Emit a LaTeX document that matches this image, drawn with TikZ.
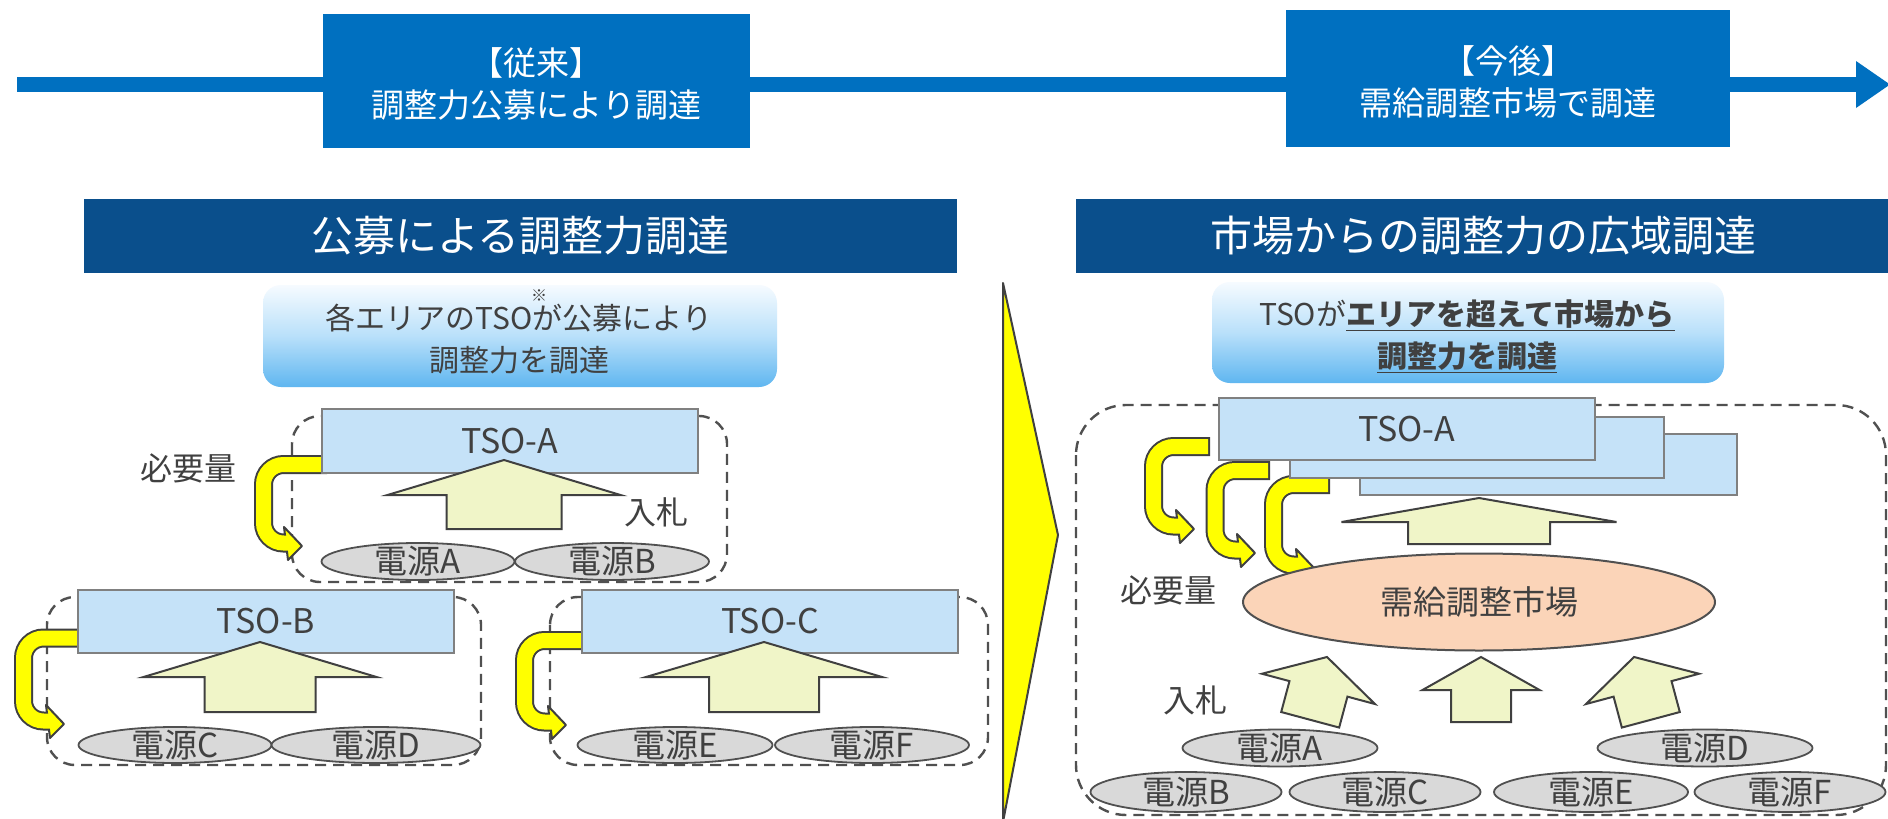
\documentclass[tikz,border=0pt]{standalone}
\usepackage{fontspec}
\setmainfont{Noto Sans CJK JP}
\usetikzlibrary{shapes.geometric}
\definecolor{tlblue}{RGB}{0,112,192}
\definecolor{hdblue}{RGB}{10,79,140}
\definecolor{tsofill}{RGB}{197,226,248}
\definecolor{tsoline}{RGB}{128,128,128}
\definecolor{txt}{RGB}{64,64,64}
\definecolor{upfill}{RGB}{240,245,200}
\definecolor{elfill}{RGB}{217,217,217}
\definecolor{elline}{RGB}{80,80,80}
\definecolor{mktfill}{RGB}{251,212,184}
\definecolor{ylw}{RGB}{255,255,0}
\definecolor{dk}{RGB}{64,64,64}
\definecolor{lbtop}{RGB}{246,251,255}
\definecolor{lbmid}{RGB}{185,224,250}
\definecolor{lbbot}{RGB}{95,182,240}
\newcommand\fsz[1]{\fontsize{#1}{#1}\selectfont}
\newcommand\fszl[2]{\fontsize{#1}{#2}\selectfont}
% bent yellow arrow: xs, yt, xv, yb, xh
\newcommand\bentarrow[5]{%
  \draw[line width=19, dk, rounded corners=20, shorten <=-2] (#1,#2) -- (#3,#2) -- (#3,#4) -- (#5+2,#4);
  \filldraw[fill=ylw, draw=dk, line width=2, line join=round] (#5-1,#4-16) -- (#5+17,#4+3) -- (#5+3,#4+17) -- cycle;
  \draw[line width=15, ylw, rounded corners=20] (#1,#2) -- (#3,#2) -- (#3,#4) -- (#5+4,#4);
}
% block up arrow: tx, ty, head half width, head length, shaft half width, length, rotation
\newcommand\blockup[7]{%
  \begin{scope}[shift={(#1,#2)}, rotate=#7]
  \filldraw[fill=upfill, draw=dk, line width=2] (0,0) -- (#3,#4) -- (#5,#4) -- (#5,#6) -- (-#5,#6) -- (-#5,#4) -- (-#3,#4) -- cycle;
  \end{scope}}
\tikzset{
  tlbox/.style={rectangle, fill=tlblue, inner sep=0},
  tltext/.style={align=center, text=white, font=\fszl{33}{42}},
  hdr/.style={rectangle, fill=hdblue, text=white, font=\fsz{42}, inner sep=0},
  lbox/.style={rectangle, rounded corners=18, top color=lbtop, bottom color=lbbot, middle color=lbmid, inner sep=0},
  ltxt/.style={align=center, text=txt, font=\fszl{30}{42}},
  tso/.style={rectangle, draw=tsoline, fill=tsofill, line width=2, text=txt, font=\fsz{34}, inner sep=0},
  src/.style={ellipse, draw=elline, fill=elfill, line width=1.8, inner xsep=0, inner ysep=-8, text=txt, font=\fsz{33}},
  mkt/.style={ellipse, draw=elline, fill=mktfill, line width=2, inner sep=0, text=txt, font=\fsz{33}},
  lbl/.style={text=txt, font=\fsz{32}, inner sep=0},
  dashbox/.style={draw=elline, line width=2.4, dash pattern=on 11 off 7},
}
\begin{document}
\begin{tikzpicture}[x=1pt,y=-1pt]
\useasboundingbox (0,0) rectangle (1888,819);
\fill[white] (0,0) rectangle (1888,819);
% timeline
\coordinate (tlstart) at (17,84.5);
\coordinate (tlend) at (1858,84.5);
\draw[tlblue, line width=15] (tlstart) -- (tlend);
\fill[tlblue] (1856,61) -- (1890,84.5) -- (1856,108) -- cycle;
\node[tlbox, minimum width=427, minimum height=134] (oldbox) at (536.5,81) {};
\node[tltext] (oldtxt) at (536.5,84) {【従来】\\調整力公募により調達};
\node[tlbox, minimum width=444, minimum height=137] (newbox) at (1508,78.5) {};
\node[tltext] (newtxt) at (1508,82) {【今後】\\需給調整市場で調達};
% headers
\node[hdr, minimum width=873, minimum height=74] (hdrL) at (520.5,236) {公募による調整力調達};
\node[hdr, minimum width=814, minimum height=74] (hdrR) at (1483,236) {市場からの調整力の広域調達};
% light boxes
\node[lbox, minimum width=514, minimum height=102] (lbL) at (520,336) {};
\node[ltxt] (lbLt) at (519,339) {各エリアのTSOが公募により\\調整力を調達};
\node[text=txt, font=\fsz{16}, inner sep=0] (note) at (539,296) {※};
\node[lbox, minimum width=512, minimum height=101] (lbR) at (1468,332.5) {};
\node[ltxt] (lbRt) at (1467,336) {TSOが\textbf{\underline{エリアを超えて市場から}}\\\textbf{\underline{調整力を調達}}};
% chevron
\filldraw[fill=ylw, draw=dk, line width=2, line join=round] (1003,283) -- (1058,535) -- (1003,822) -- cycle;
% dashed containers
\draw[dashbox, rounded corners=28] (292,416) rectangle (727,582);
\draw[dashbox, rounded corners=28] (47,597) rectangle (481,765);
\draw[dashbox, rounded corners=28] (550,597) rectangle (988,765);
\draw[dashbox, rounded corners=50] (1076,405) rectangle (1886,815);
% bent yellow arrows
\bentarrow{325}{464.5}{263.5}{543}{285}
\bentarrow{82}{638}{23.5}{721}{47}
\bentarrow{586}{640.5}{524.5}{722}{549}
\bentarrow{1208}{446.5}{1153.5}{526}{1177}
\bentarrow{1268}{470.5}{1215}{550}{1238}
\bentarrow{1328}{484.5}{1273.5}{565}{1297}
% TSO boxes
\node[tso, minimum width=376, minimum height=64] (tsoA) at (510,441) {TSO-A};
\node[tso, minimum width=376, minimum height=63] (tsoB) at (266,621.5) {TSO-B};
\node[tso, minimum width=376, minimum height=63] (tsoC) at (770,621.5) {TSO-C};
\node[tso, minimum width=377, minimum height=61] (tsoR3) at (1548.5,464.5) {};
\node[tso, minimum width=374, minimum height=61] (tsoR2) at (1477,447.5) {};
\node[tso, minimum width=376, minimum height=62] (tsoR1) at (1407,429) {TSO-A};
% block arrows
\blockup{504}{460}{116.5}{35}{57.5}{69}{0}
\blockup{260}{642}{116.5}{35}{55.5}{70}{0}
\blockup{764}{642}{118}{35}{55}{70}{0}
\blockup{1479}{498}{137.5}{24}{71}{46}{0}
\blockup{1481}{657}{58.5}{33}{30}{65}{0}
\blockup{1327}{657}{58.5}{33}{30}{65}{-15}
\blockup{1634}{657}{58.5}{33}{30}{65}{15}
% sources left
\node[src, minimum width=193, minimum height=37] (srcA) at (418,561.5) {電源A};
\node[src, minimum width=194, minimum height=37] (srcB) at (612,561.5) {電源B};
\node[src, minimum width=193, minimum height=36] (srcC) at (175,745) {電源C};
\node[src, minimum width=209, minimum height=36] (srcD) at (376,745) {電源D};
\node[src, minimum width=195, minimum height=36] (srcE) at (675,745) {電源E};
\node[src, minimum width=194, minimum height=36] (srcF) at (872,745) {電源F};
% sources right
\node[src, minimum width=195, minimum height=37] (rsrcA) at (1280,748) {電源A};
\node[src, minimum width=215, minimum height=37] (rsrcD) at (1705,748) {電源D};
\node[src, minimum width=191, minimum height=40] (rsrcB) at (1186,792) {電源B};
\node[src, minimum width=191, minimum height=40] (rsrcC) at (1385,792) {電源C};
\node[src, minimum width=194, minimum height=40] (rsrcE) at (1591,792) {電源E};
\node[src, minimum width=191, minimum height=40] (rsrcF) at (1790,792) {電源F};
% market
\node[mkt, minimum width=472, minimum height=97] (market) at (1479,602) {需給調整市場};
% labels
\node[lbl] (need1) at (188,468) {必要量};
\node[lbl] (bid1) at (656,512) {入札};
\node[lbl] (need2) at (1168,590) {必要量};
\node[lbl] (bid2) at (1195,700) {入札};
\end{tikzpicture}
\end{document}
